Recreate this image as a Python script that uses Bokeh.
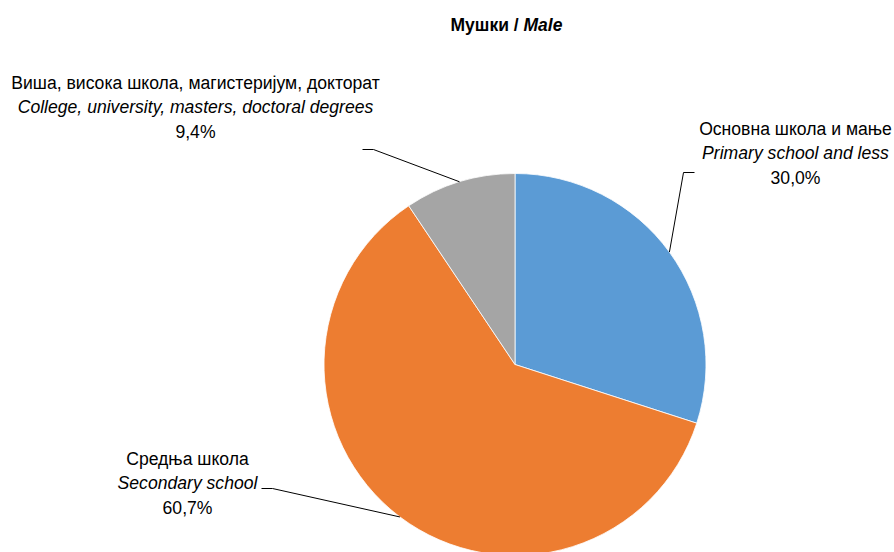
import math
from bokeh.plotting import figure
from bokeh.models import Range1d
from bokeh.core.properties import value
from bokeh.embed import file_html
from bokeh.resources import INLINE

# ---- data ----
title_sr = "Мушки / "
title_en = "Male"
categories_sr = ["Основна школа и мање", "Средња школа", "Виша, висока школа, магистеријум, докторат"]
categories_en = ["Primary school and less", "Secondary school", "College, university, masters, doctoral degrees"]
shares = [30.0, 60.7, 9.4]
share_labels = ["30,0%", "60,7%", "9,4%"]
colors = ["#5B9BD5", "#ED7D31", "#A5A5A5"]

# ---- layout (page pixel coordinates; y measured downward) ----
W, H = 894, 552
cx, cy, R = 514.5, 364.0, 191.0
label_centers = [(795, 128), (187, 458), (195, 82)]
line_gap = 24.5
elbows = [((694, 172), (683, 172)), ((261, 488), (272, 488)), ((362, 149), (373, 149))]
LABEL_FONT = "Liberation Sans"
LABEL_SIZE = "17.6px"

p = figure(width=W, height=H, output_backend="svg", toolbar_location=None,
           x_range=Range1d(0, W), y_range=Range1d(-H, 0),
           min_border=0, outline_line_color=None)
p.axis.visible = False
p.grid.visible = False
p.background_fill_color = "white"
p.border_fill_color = "white"

total = sum(shares)
start = math.pi / 2
mids = []
for s, c in zip(shares, colors):
    sweep = s / total * 2 * math.pi
    end = start - sweep
    p.wedge(x=cx, y=-cy, radius=R, start_angle=start, end_angle=end, direction="clock",
            fill_color=c, line_color="white", line_width=0.8)
    mids.append((start + end) / 2)
    start = end

# leader lines
for m, (a, b) in zip(mids, elbows):
    ex = cx + R * math.cos(m)
    ey = cy - R * math.sin(m)
    p.line(x=[a[0], b[0], ex], y=[-a[1], -b[1], -ey], line_color="black", line_width=1)

# labels
for (lx, ly), sr, en, pct in zip(label_centers, categories_sr, categories_en, share_labels):
    for i, (t, style) in enumerate([(sr, "normal"), (en, "italic"), (pct, "normal")]):
        p.text(x=[lx], y=[-(ly + i * line_gap)], text=[t], text_align="center",
               text_baseline="middle", text_font=value(LABEL_FONT), text_font_size=LABEL_SIZE,
               text_font_style=style, text_color="black")

# title
p.text(x=[523], y=[-24], text=[title_sr], text_align="right", text_baseline="middle",
       text_font=value("Liberation Sans"), text_font_size="17.5px", text_font_style="bold",
       text_color="black")
p.text(x=[523], y=[-24], text=[title_en], text_align="left", text_baseline="middle",
       text_font=value("Liberation Sans"), text_font_size="17.5px", text_font_style="bold italic",
       text_color="black")

open("out.html", "w").write(file_html(p, INLINE))
